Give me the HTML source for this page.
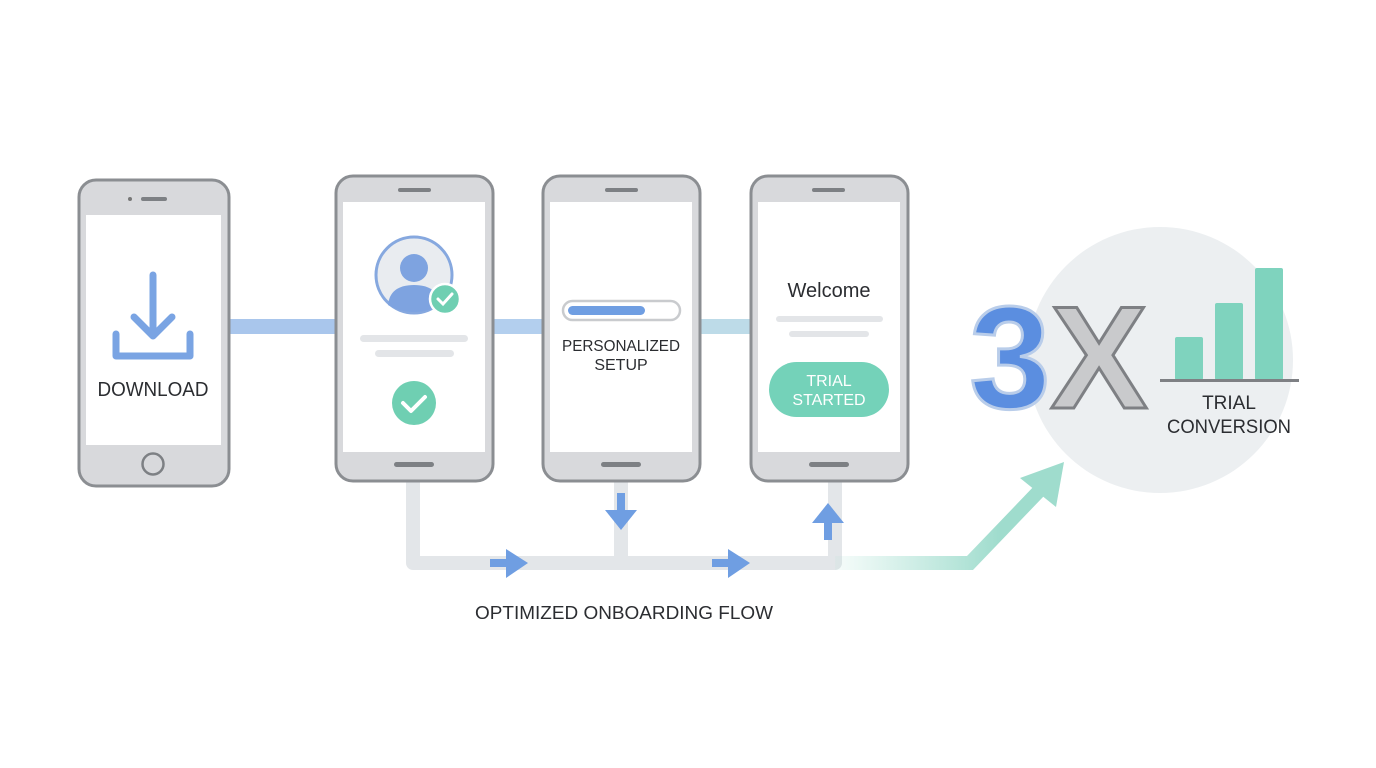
<!DOCTYPE html>
<html><head><meta charset="utf-8"><style>
html,body{margin:0;padding:0;background:#fff;}
svg{display:block;}
text{font-family:"Liberation Sans",sans-serif;}
</style></head><body>
<svg width="1376" height="768" viewBox="0 0 1376 768" xmlns="http://www.w3.org/2000/svg">
<defs>
<linearGradient id="g1" x1="835" y1="0" x2="1000" y2="0" gradientUnits="userSpaceOnUse">
<stop offset="0" stop-color="#a8e0d2" stop-opacity="0.1"/><stop offset="1" stop-color="#9fdccd"/>
</linearGradient>
</defs>
<rect width="1376" height="768" fill="#fff"/>
<circle cx="1160" cy="360" r="133" fill="#eceff1"/>
<rect x="228" y="319" width="108" height="15" fill="#a9c6ec"/>
<rect x="492" y="319" width="52" height="15" fill="#b3cfee"/>
<rect x="699" y="319" width="53" height="15" fill="#bddbe8"/>
<path d="M413 480 V563 H835 V480 M621 480 V563" fill="none" stroke="#e3e6e9" stroke-width="14" stroke-linejoin="round"/>
<path d="M835 563 H970 L1040 490" fill="none" stroke="url(#g1)" stroke-width="14" stroke-linejoin="miter"/>
<polygon points="1020,478 1064,462 1056,507" fill="#9fdccd"/>
<g fill="#6f9ee2">
<rect x="490" y="559" width="18" height="8"/><polygon points="506,549 528,563 506,578"/>
<rect x="712" y="559" width="18" height="8"/><polygon points="728,549 750,563 728,578"/>
<rect x="617" y="493" width="8" height="18"/><polygon points="605,510 637,510 621,530"/>
<rect x="824" y="522" width="8" height="18"/><polygon points="812,523 844,523 828,503"/>
</g>
<rect x="79" y="180" width="150" height="306" rx="17" fill="#d8d9dc" stroke="#8b8e92" stroke-width="3"/>
<rect x="86" y="215" width="135" height="230" fill="#fff"/>
<circle cx="130" cy="199" r="2" fill="#777"/><rect x="141" y="197" width="26" height="4" rx="2" fill="#7d8084"/>
<circle cx="153" cy="464" r="10.5" fill="none" stroke="#7d8084" stroke-width="2.5"/>
<g stroke="#7aa4e3" stroke-width="7" fill="none" stroke-linecap="round" stroke-linejoin="round">
<path d="M153 275 V335 M134 317 L153 336 L172 317"/>
<path d="M116 334 V356 H190 V334"/>
</g>
<text x="153" y="396" font-size="20" fill="#2b2d31" text-anchor="middle" textLength="111" lengthAdjust="spacingAndGlyphs">DOWNLOAD</text>
<rect x="336" y="176" width="157" height="305" rx="17" fill="#d8d9dc" stroke="#8b8e92" stroke-width="3"/>
<rect x="343" y="202" width="142" height="250" fill="#fff"/>
<rect x="398" y="188" width="33" height="4" rx="2" fill="#7d8084"/>
<rect x="394" y="462" width="40" height="5" rx="2.5" fill="#7d8084"/>
<circle cx="414" cy="275" r="38" fill="#e9ecf0" stroke="#86a8df" stroke-width="3"/>
<circle cx="414" cy="268" r="14" fill="#7ea3e0"/>
<path d="M388 305 Q390 285 414 285 Q438 285 440 305 Q428 312 414 312 Q400 312 388 305Z" fill="#7ea3e0"/>
<circle cx="445" cy="299" r="15" fill="#6fcfb2" stroke="#fff" stroke-width="2.5"/>
<path d="M438 299 L443 304 L452 294" stroke="#fff" stroke-width="3" fill="none" stroke-linecap="round"/>
<rect x="360" y="335" width="108" height="7" rx="3.5" fill="#e3e5e8"/>
<rect x="375" y="350" width="79" height="7" rx="3.5" fill="#e3e5e8"/>
<circle cx="414" cy="403" r="22" fill="#6fcfb2"/>
<path d="M403 403 L411 411 L425 397" stroke="#fff" stroke-width="4" fill="none" stroke-linecap="round" stroke-linejoin="round"/>
<rect x="543" y="176" width="157" height="305" rx="17" fill="#d8d9dc" stroke="#8b8e92" stroke-width="3"/>
<rect x="550" y="202" width="142" height="250" fill="#fff"/>
<rect x="605" y="188" width="33" height="4" rx="2" fill="#7d8084"/>
<rect x="601" y="462" width="40" height="5" rx="2.5" fill="#7d8084"/>
<rect x="563" y="301" width="117" height="19" rx="9.5" fill="#fff" stroke="#c9cbce" stroke-width="2.5"/>
<rect x="568" y="306" width="77" height="9" rx="4.5" fill="#6f9ee2"/>
<text x="621" y="351" font-size="16" fill="#2b2d31" text-anchor="middle" textLength="118" lengthAdjust="spacingAndGlyphs">PERSONALIZED</text>
<text x="621" y="370" font-size="16" fill="#2b2d31" text-anchor="middle">SETUP</text>
<rect x="751" y="176" width="157" height="305" rx="17" fill="#d8d9dc" stroke="#8b8e92" stroke-width="3"/>
<rect x="758" y="202" width="142" height="250" fill="#fff"/>
<rect x="812" y="188" width="33" height="4" rx="2" fill="#7d8084"/>
<rect x="809" y="462" width="40" height="5" rx="2.5" fill="#7d8084"/>
<text x="829" y="297" font-size="20" fill="#2b2d31" text-anchor="middle">Welcome</text>
<rect x="776" y="316" width="107" height="6" rx="3" fill="#e3e5e8"/>
<rect x="789" y="331" width="80" height="6" rx="3" fill="#e3e5e8"/>
<rect x="769" y="362" width="120" height="55" rx="27.5" fill="#74d2b9"/>
<text x="829" y="386" font-size="16" fill="#fff" text-anchor="middle">TRIAL</text>
<text x="829" y="405" font-size="16" fill="#fff" text-anchor="middle">STARTED</text>
<text x="1010" y="408" font-size="146" font-weight="bold" fill="#5b8ee0" stroke="#b9cdea" stroke-width="3" text-anchor="middle">3</text>
<text x="1099" y="408" font-size="146" font-weight="bold" fill="#c9cacc" stroke="#7e8084" stroke-width="3" text-anchor="middle">X</text>
<g fill="#7fd3be">
<rect x="1175" y="337" width="28" height="43" rx="2"/>
<rect x="1215" y="303" width="28" height="77" rx="2"/>
<rect x="1255" y="268" width="28" height="112" rx="2"/>
</g>
<rect x="1160" y="379" width="139" height="3" fill="#7e8084"/>
<text x="1229" y="409" font-size="19" fill="#2b2d31" text-anchor="middle">TRIAL</text>
<text x="1229" y="433" font-size="19" fill="#2b2d31" text-anchor="middle" textLength="124" lengthAdjust="spacingAndGlyphs">CONVERSION</text>
<text x="624" y="619" font-size="18" fill="#2b2d31" text-anchor="middle" textLength="298" lengthAdjust="spacingAndGlyphs">OPTIMIZED ONBOARDING FLOW</text>
</svg>
</body></html>
